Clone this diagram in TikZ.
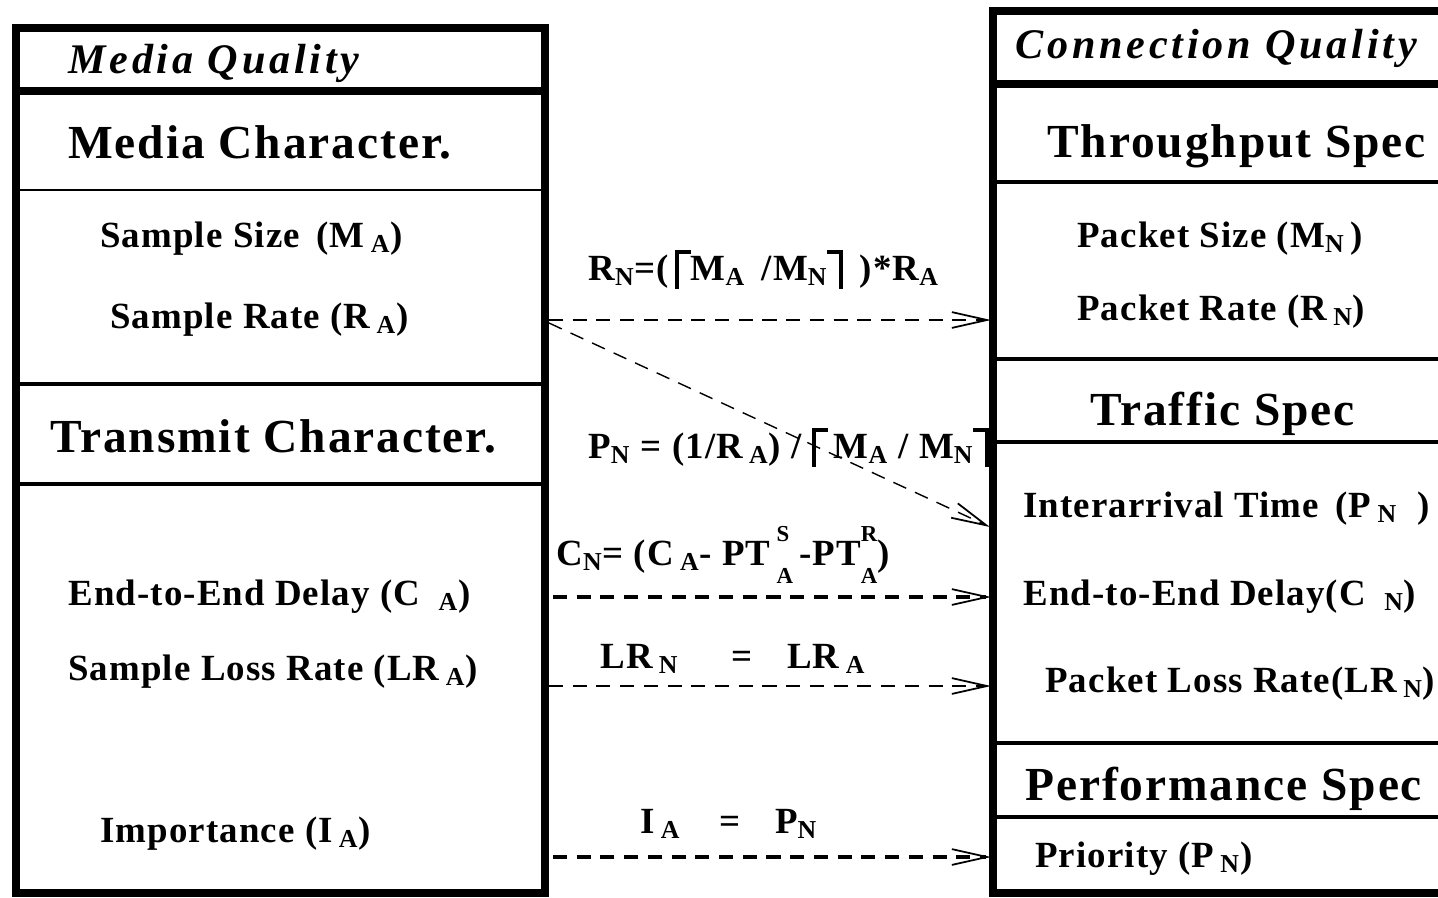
\documentclass[tikz,border=0pt]{standalone}
\usepackage{fontspec}
\setmainfont{Liberation Serif}
\newfontfamily\hdfont[LetterSpace=9]{Liberation Serif}
\newfontfamily\secfont[LetterSpace=4]{Liberation Serif}
\newfontfamily\itmfont[LetterSpace=3]{Liberation Serif}
\usetikzlibrary{arrows.meta}

\newcommand{\lo}[1]{\textsubscript{#1}}
\newcommand{\ceilL}{\rule[-5pt]{2.2pt}{22pt}\kern-2.2pt\rule[14.8pt]{9pt}{2.2pt}}
\newcommand{\ceilR}{\rule[14.8pt]{9pt}{2.2pt}\kern-2.2pt\rule[-5pt]{2.2pt}{22pt}}
\newcommand{\hilo}[2]{\raisebox{1pt}{\begin{tabular}[c]{@{}l@{}}\fontsize{13}{10}\selectfont #1\\\fontsize{13}{10}\selectfont #2\end{tabular}}}

\begin{document}
\begin{tikzpicture}[x=0.02cm, y=-0.02cm,
	hd/.style={anchor=base west, inner sep=0pt, font=\hdfont\bfseries\itshape\fontsize{24}{27}\selectfont},
	sec/.style={anchor=base west, inner sep=0pt, font=\secfont\bfseries\fontsize{27}{30}\selectfont},
	itm/.style={anchor=base west, inner sep=0pt, font=\itmfont\bfseries\fontsize{21}{24}\selectfont},
	frame/.style={line width=4.5pt},
	rule/.style={line width=2pt},
	map/.style={line width=1.1pt, dash pattern=on 8pt off 5.5pt, -{Straight Barb[length=20pt, width=9pt, line width=1pt]}},
	mapbold/.style={map, line width=2.2pt}]
	\useasboundingbox (0, 0) rectangle (1438, 897);
	\clip (0, 0) rectangle (1438, 897);

	% media quality
	\draw[frame](16, 28) rectangle (545, 893);
		\draw[frame](16, 91) to (545, 91);
		\draw[line width=1.2pt](16, 190) to (545, 190);
		\draw[rule](16, 384) to (545, 384);
		\draw[rule](16, 484) to (545, 484);

		\node[hd] (mq) at(68, 73){Media Quality};
		\node[sec] (mchar) at(68, 158){Media Character.};
			\node[itm] (ssize) at(100, 247){Sample Size\, (M\,\lo{A})};
			\node[itm] (srate) at(110, 328){Sample Rate (R\,\lo{A})};
		\node[sec] (tchar) at(50, 452){Transmit Character.};
			\node[itm] (delA) at(68, 605){End-to-End Delay (C\enspace\lo{A})};
			\node[itm] (lossA) at(68, 680){Sample Loss Rate (LR\,\lo{A})};
			\node[itm] (impA) at(100, 842){Importance (I\,\lo{A})};

	% connection quality
	\draw[frame](993, 11) rectangle (1480, 893);
		\draw[frame](993, 84) to (1480, 84);
		\draw[rule](993, 182) to (1480, 182);
		\draw[rule](993, 359) to (1480, 359);
		\draw[rule](993, 442) to (1480, 442);
		\draw[rule](993, 743) to (1480, 743);
		\draw[rule](993, 817) to (1480, 817);

		\node[hd] (cq) at(1015, 58){Connection Quality};
		\node[sec] (thr) at(1047, 157){Throughput Spec};
			\node[itm] (psize) at(1077, 247){Packet Size (M\lo{N}\,)};
			\node[itm] (prate) at(1077, 320){Packet Rate (R\,\lo{N})};
		\node[sec] (traf) at(1090, 425){Traffic Spec};
			\node[itm] (inter) at(1023, 517){Interarrival Time\, (P\,\lo{N}\; )};
			\node[itm] (delN) at(1023, 605){End-to-End Delay(C\enspace\lo{N})};
			\node[itm] (lossN) at(1045, 692){Packet Loss Rate(LR\,\lo{N})};
		\node[sec] (perf) at(1025, 800){Performance Spec};
			\node[itm] (prio) at(1035, 867){Priority (P\,\lo{N})};

	% mappings
	\coordinate (sr) at(549, 320);
	\coordinate (pr) at(991, 320);
	\coordinate (sr2) at(549, 323);
	\coordinate (ia) at(990, 527);
	\coordinate (dA) at(553, 597);
	\coordinate (dN) at(991, 597);
	\coordinate (lA) at(549, 686);
	\coordinate (lN) at(991, 686);
	\coordinate (iA) at(553, 857);
	\coordinate (pN) at(991, 857);

	\draw[map](sr) to (pr);
	\draw[map, line width=0.8pt](sr2) to (ia);
	\draw[mapbold](dA) to (dN);
	\draw[map](lA) to (lN);
	\draw[mapbold](iA) to (pN);

		\node[itm] (eqR) at(588, 280){R\lo{N}=(\,\ceilL M\lo{A}\, /M\lo{N}\ceilR\, )*R\lo{A}};
		\node[itm] (eqP) at(588, 458){P\lo{N} = (1/R\,\lo{A}) / \ceilL\,M\lo{A}\;/ M\lo{N}\ceilR};
		\node[itm] (eqC) at(556, 565){C\lo{N}= (C\,\lo{A}- PT\,\hilo{S}{A}\,-PT\hilo{R}{A})};
		\node[itm] (eqLR) at(600, 668){LR\,\lo{N}\hspace{30pt}=\hspace{20pt}LR\,\lo{A}};
		\node[itm] (eqI) at(640, 833){I\,\lo{A}\hspace{22pt}=\hspace{20pt}P\lo{N}};
\end{tikzpicture}
\end{document}
